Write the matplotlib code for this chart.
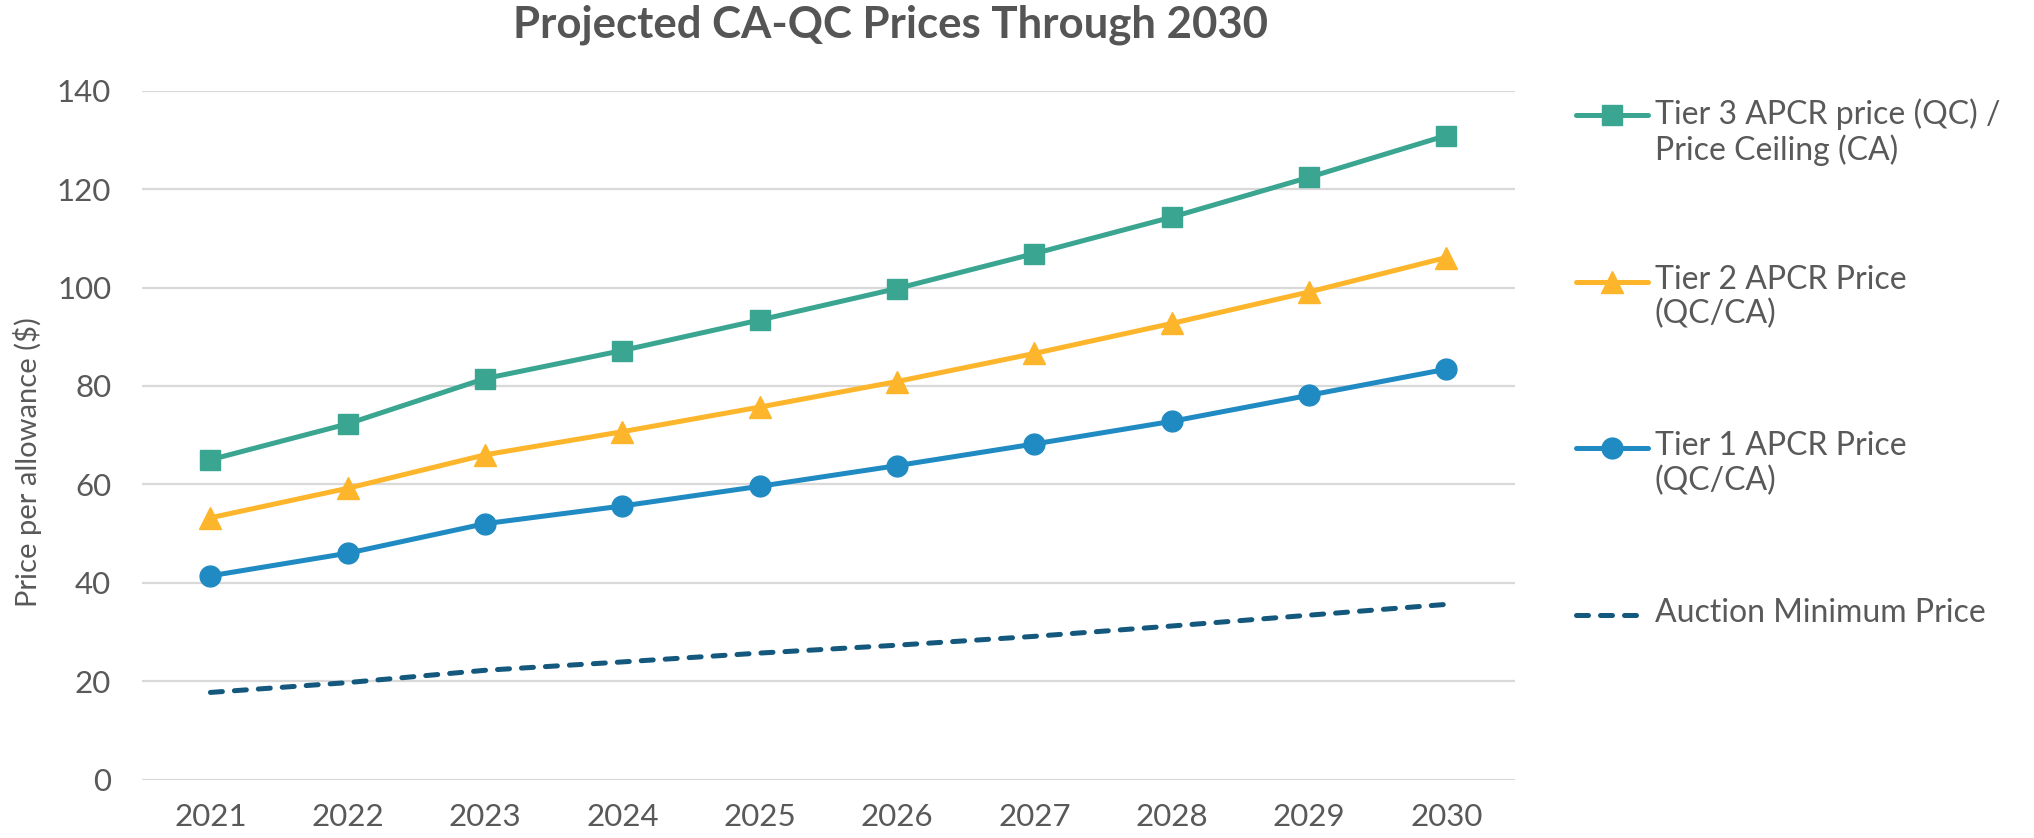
import numpy as np
import matplotlib.pyplot as plt
from matplotlib.lines import Line2D

# Years on the category axis
years = ["2021", "2022", "2023", "2024", "2025", "2026", "2027", "2028", "2029", "2030"]

# Projected prices per allowance ($)
tier3 = [65.0, 72.3, 81.5, 87.2, 93.4, 99.8, 106.9, 114.3, 122.4, 130.9]
tier2 = [53.2, 59.2, 66.0, 70.7, 75.7, 80.9, 86.6, 92.7, 99.1, 106.1]
tier1 = [41.4, 46.0, 52.0, 55.6, 59.6, 63.8, 68.2, 72.8, 78.1, 83.4]
floor = [17.7, 19.7, 22.2, 23.9, 25.7, 27.3, 29.1, 31.2, 33.4, 35.6]

labels = ["Tier 3 APCR price (QC) /\nPrice Ceiling (CA)",
          "Tier 2 APCR Price\n(QC/CA)",
          "Tier 1 APCR Price\n(QC/CA)",
          "Auction Minimum Price"]

teal = "#3AA590"
gold = "#FDB52B"
blue = "#208AC2"
navy = "#14597D"
grey_text = "#595959"

plt.rcParams['font.family'] = ['Lato', 'DejaVu Sans']

fig = plt.figure(figsize=(20.34, 8.38), dpi=100)
ax = fig.add_axes([0.0697, 0.0698, 0.6751, 0.8219])

x = np.arange(len(years))
lw = 3.6
l3, = ax.plot(x, tier3, color=teal, lw=lw, marker="s", ms=14, zorder=4)
l2, = ax.plot(x, tier2, color=gold, lw=lw, marker="^", ms=16, zorder=4)
l1, = ax.plot(x, tier1, color=blue, lw=lw, marker="o", ms=15, zorder=4)
l0, = ax.plot(x, floor, color=navy, lw=lw, dashes=(2.4, 2.4),
              dash_capstyle="round", zorder=4)

ax.set_xlim(-0.5, len(years) - 0.5)
ax.set_ylim(0, 140)
ax.set_yticks(np.arange(0, 141, 20))
ax.set_xticks(x)
ax.set_xticklabels(years)
ax.grid(axis="y", color="#D9D9D9", lw=1.6)
ax.set_axisbelow(True)
for s in ax.spines.values():
    s.set_visible(False)
ax.tick_params(axis="both", length=0, labelsize=22.5, labelcolor=grey_text)
ax.tick_params(axis="y", pad=22)
ax.tick_params(axis="x", pad=17)
ax.set_ylabel("Price per allowance ($)", fontsize=21, color=grey_text)
ax.yaxis.set_label_coords(-0.0726, 0.461)

fig.text(0.4378, 1 - 37.3 / 838, "Projected CA-QC Prices Through 2030", ha="center",
         va="baseline", fontsize=31.5, fontweight="bold", color="#555555")

# legend drawn at the right of the plot
W, H = 2034.0, 838.0
entries = [(l3, labels[0]), (l2, labels[1]), (l1, labels[2]), (l0, labels[3])]
for i, (ln, lab) in enumerate(entries):
    yc = 1 - (115 + 166.6 * i) / H
    seg = Line2D([1576 / W, 1648 / W if i < 3 else 1641 / W], [yc, yc],
                 transform=fig.transFigure, color=ln.get_color(), lw=lw,
                 solid_capstyle="round", dash_capstyle="round")
    if i == 3:
        seg.set_dashes((2.4, 2.4))
    fig.add_artist(seg)
    if ln.get_marker() not in (None, "None", ""):
        fig.add_artist(Line2D([1612 / W], [yc], transform=fig.transFigure,
                              marker=ln.get_marker(), ms=ln.get_markersize(),
                              color=ln.get_color(), lw=0))
    fig.text(1655 / W, yc + 17 / H, lab, ha="left", va="top", fontsize=23,
             color=grey_text, linespacing=1.17)

fig.savefig("out.png", dpi=100)
